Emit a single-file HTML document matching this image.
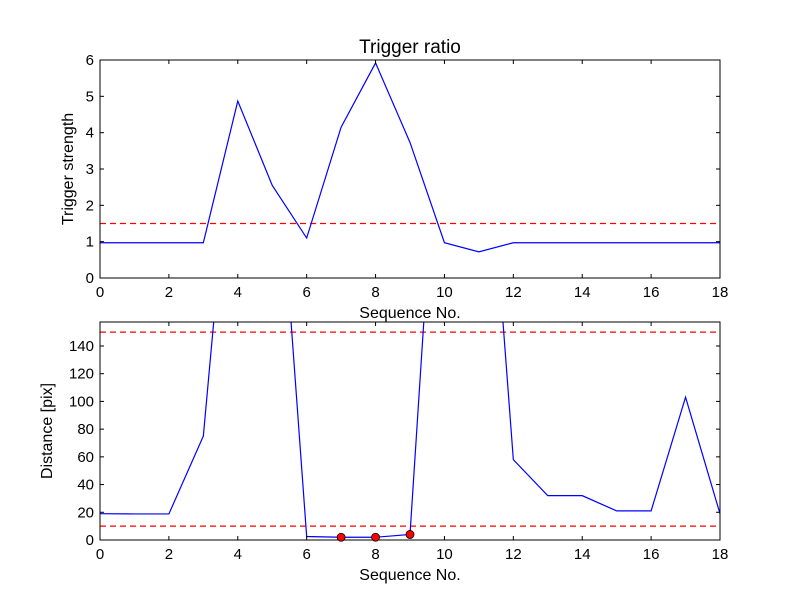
<!DOCTYPE html>
<html><head><meta charset="utf-8"><style>
body{margin:0;background:#fff}
svg text{font-family:"Liberation Sans","DejaVu Sans",sans-serif;fill:#000}
</style></head><body>
<svg id="c" width="800" height="600" xmlns="http://www.w3.org/2000/svg">
<rect width="800" height="600" fill="#fff"/>
<defs>
<clipPath id="cp1"><rect x="100" y="60" width="620" height="218"/></clipPath>
<clipPath id="cp2"><rect x="100" y="322" width="620" height="218"/></clipPath>
</defs>
<g id="g"></g>
</svg>
<script>
const xs = [0,1,2,3,4,5,6,7,8,9,10,11,12,13,14,15,16,17,18];
const ratio = [0.97,0.97,0.97,0.97,4.87,2.55,1.1,4.15,5.92,3.73,0.97,0.72,0.97,0.97,0.97,0.97,0.97,0.97,0.97];
const ratioThreshold = [1.5];
const dist = [19,18.8,18.8,75,348,344,2.5,2,2,4,387,388,58,32,32,21,21,103,19];
const distThresholds = [150,10];
const markedIdx = [7,8,9];
const xTicks = [0,2,4,6,8,10,12,14,16,18];
const yTicks1 = [0,1,2,3,4,5,6];
const yTicks2 = [0,20,40,60,80,100,120,140];

const NS="http://www.w3.org/2000/svg";
const g=document.getElementById('g');
function el(t,a,p){const e=document.createElementNS(NS,t);for(const k in a)e.setAttribute(k,a[k]);(p||g).appendChild(e);return e;}
function panel(top,yMax,yTicks,vals,thr,clip,prefix,ylabel,title){
  const L=100,R=720,T=top,B=top+218;
  const X=v=>L+(v-0)/18*(R-L);
  const Y=v=>B-v/yMax*(B-T);
  const grp=el('g',{});
  
  
  thr.forEach(t=>{
    const l=el('line',{x1:L,x2:R,y1:Y(t),y2:Y(t),stroke:'#f00','stroke-dasharray':'6,4','stroke-width':1.2},grp);
    
    
  });
  const pts=xs.map((x,i)=>X(x)+','+Y(vals[i])).join(' ');
  const pl=el('polyline',{points:pts,fill:'none',stroke:'#00f','stroke-width':1.2,'clip-path':'url(#'+clip+')'},grp);
  
  
  const fr=el('rect',{x:L,y:T,width:R-L,height:B-T,fill:'none',stroke:'#000','stroke-width':1},grp);
  
  
  xTicks.forEach(t=>{
    const x=X(t);
    el('line',{x1:x,x2:x,y1:B,y2:B-4,stroke:'#000'},grp);
    el('line',{x1:x,x2:x,y1:T,y2:T+4,stroke:'#000'},grp);
    const tx=el('text',{x:x,y:B+19,'font-size':15,'text-anchor':'middle'},grp);
    tx.textContent=t;
    
    
  });
  yTicks.forEach(t=>{
    const y=Y(t);
    el('line',{x1:L,x2:L+4,y1:y,y2:y,stroke:'#000'},grp);
    el('line',{x1:R,x2:R-4,y1:y,y2:y,stroke:'#000'},grp);
    const tx=el('text',{x:L-6,y:y+5,'font-size':15,'text-anchor':'end'},grp);
    tx.textContent=t;
    
    
  });
  const xl=el('text',{x:410,y:B+40,'font-size':16,'text-anchor':'middle'},grp);
  xl.textContent='Sequence No.';
  
  
  const yl=el('text',{x:0,y:0,'font-size':16,'text-anchor':'middle',transform:'translate('+(prefix==='ratio'?73:52)+','+((T+B)/2)+') rotate(-90)'},grp);
  yl.textContent=ylabel;
  
  
  if(title){
    const tt=el('text',{x:410,y:T-7,'font-size':19,'text-anchor':'middle'},grp);
    tt.textContent=title;
    
    
  }
  return {X,Y,grp};
}
panel(60,6,yTicks1,ratio,ratioThreshold,'cp1','ratio','Trigger strength','Trigger ratio');
const p2=panel(322,157.3,yTicks2,dist,distThresholds,'cp2','distance','Distance [pix]',null);
markedIdx.forEach(i=>{
  const c=el('circle',{cx:p2.X(xs[i]),cy:p2.Y(dist[i]),r:4,fill:'#f00',stroke:'#000','stroke-width':0.8},p2.grp);
  
  
});
</script>
</body></html>
